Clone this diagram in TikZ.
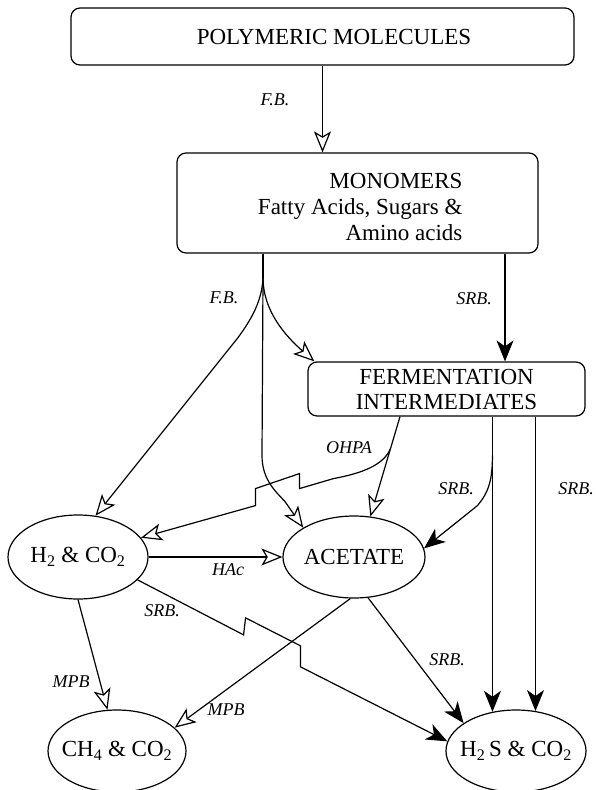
\documentclass[tikz,border=0pt]{standalone}
\usepackage{fontspec}
\setmainfont{Liberation Serif}
\usetikzlibrary{arrows.meta,shapes.geometric,calc}
\begin{document}
\begin{tikzpicture}[x=1pt,y=-1pt,
  line width=1.2pt,
  box/.style={draw, rounded corners=9pt, inner sep=0pt, font=\fontsize{23}{25}\selectfont},
  oval/.style={draw, ellipse, inner sep=0pt, font=\fontsize{23}{25}\selectfont},
  lbl/.style={font=\fontsize{18}{20}\selectfont\itshape, inner sep=0pt},
  oarr/.style={-{Stealth[open,length=21pt,width=17pt,inset=5pt]}},
  farr/.style={-{Stealth[length=21pt,width=17pt,inset=6pt]}},
]
\useasboundingbox (0,0) rectangle (596,790);

% boxes
\node[box, minimum width=503pt, minimum height=57pt] (poly) at (322.5,36.5) {\hspace*{23pt}POLYMERIC MOLECULES};
\node[box, minimum width=361pt, minimum height=100pt] (mono) at (357.5,203) {};
\node[font=\fontsize{23}{26}\selectfont, align=right, inner sep=0pt, anchor=east] (monotxt) at (463,207) {MONOMERS\\Fatty Acids, Sugars \&\\Amino acids};
\node[box, minimum width=277pt, minimum height=54pt, align=center] (ferm) at (446.5,389) {FERMENTATION\\INTERMEDIATES};

% ellipses
\node[oval, minimum width=140pt, minimum height=84pt] (h2) at (78,557) {\makebox[0pt]{H\textsubscript{2} \& CO\textsubscript{2}}};
\node[oval, minimum width=142pt, minimum height=82pt] (ac) at (354,557) {\makebox[0pt]{ACETATE}};
\node[oval, minimum width=138pt, minimum height=82pt] (ch4) at (117,751) {\makebox[0pt]{CH\textsubscript{4} \& CO\textsubscript{2}}};
\node[oval, minimum width=140pt, minimum height=82pt] (h2s) at (516,751) {\makebox[0pt]{H\textsubscript{2}\,S \& CO\textsubscript{2}}};

% polymeric -> monomers
\draw[oarr] (poly.south) -- (poly.south |- mono.north);

% F.B. fan from monomers
\coordinate (fb) at ($(mono.south)+(-94.5,24)$);
\draw (mono.south -| fb) -- (fb);
\draw[oarr] (fb) .. controls ($(fb)+(-1,23)$) and ($(fb)+(-11,41)$) .. ($(fb)+(-25,60)$) -- (h2.67);
\draw[oarr] (fb) -- ($(fb)+(-1,178)$) .. controls ($(fb)+(-1,203)$) and ($(fb)+(14,215)$) .. ($(fb)+(22,224)$) -- (ac.150);
\draw[oarr] (fb) .. controls ($(fb)+(0,33)$) and ($(fb)+(22,58)$) .. ([xshift=7pt]ferm.north west);

% SRB monomers -> fermentation
\coordinate (fin) at ([xshift=58.5pt]ferm.north);
\draw[farr] (mono.south -| fin) -- (fin);

% OHPA
\coordinate (ohs) at ([xshift=-46.5pt]ferm.south);
\draw[oarr] (ohs) -- (ac.68);
\coordinate (ob) at ($(ohs)!0.32!(ac.68)$);
\draw[oarr] (ob) .. controls ($(ob)+(-7,17)$) and ($(ob)+(-30,25)$) .. ($(ob)+(-57,30)$)
  -- ++(-34,10) -- ++(0,-15) -- ++(-44,15) -- ++(0,17) -- (h2.17);

% SRB fermentation -> H2S and acetate
\draw[farr] (ferm.south -| h2s.121) -- (h2s.121);
\draw[farr] (ferm.south -| h2s.64) -- (h2s.64);
\coordinate (sb) at ($(ferm.south -| h2s.121)+(0,39)$);
\draw[farr] (sb) .. controls ($(sb)+(0,25)$) and ($(sb)+(-4,37)$) .. ($(sb)+(-15,50)$) -- (ac.7);

% HAc
\draw[oarr] (h2.east) -- (ac.west);

% MPB
\draw[oarr] (h2.south) -- (ch4.103);
\draw[oarr] (ac.265) -- (ch4.22);

% SRB to H2S
\draw[farr] (ac.-71) -- (h2s.152);
\draw[farr] (h2.-21) -- ++(106,55) -- ++(2,-17) -- ++(55,28) -- ++(0,21) -- (h2s.172);

% labels
\node[lbl] (lfb1) at (275,100) {F.B.};
\node[lbl] (lfb2) at (224,298) {F.B.};
\node[lbl] (lsrb1) at (474,299) {SRB.};
\node[lbl] (lohpa) at (349,448) {OHPA};
\node[lbl] (lsrb2) at (456,489) {SRB.};
\node[lbl] (lsrb3) at (576,489) {SRB.};
\node[lbl] (lhac) at (228,570) {HAc};
\node[lbl] (lsrb4) at (162,611) {SRB.};
\node[lbl] (lmpb1) at (71,682) {MPB};
\node[lbl] (lmpb2) at (226,710) {MPB};
\node[lbl] (lsrb5) at (447,660) {SRB.};
\end{tikzpicture}
\end{document}
